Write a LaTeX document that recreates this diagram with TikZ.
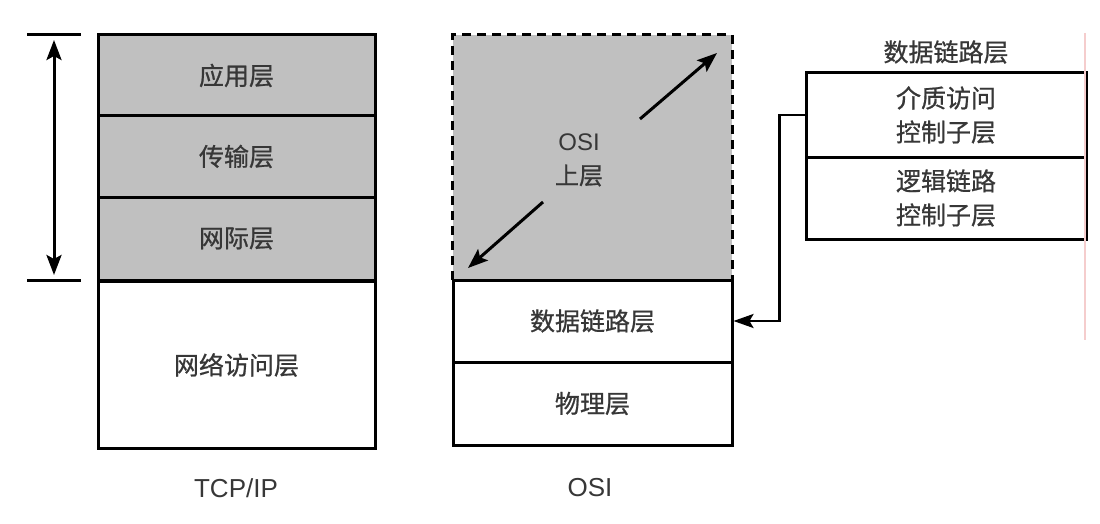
\documentclass[tikz,border=0pt]{standalone}
\usepackage{fontspec}
\setmainfont{Liberation Sans}
\newfontfamily\cjk[UprightFeatures={FakeBold=0.8}]{Noto Sans CJK SC}
\usetikzlibrary{arrows.meta}
\definecolor{layergray}{RGB}{192,192,192}
\definecolor{txt}{RGB}{55,55,55}
\definecolor{faintred}{RGB}{245,205,205}
\begin{document}
\begin{tikzpicture}[x=1pt,y=-1pt,
  layer/.style={draw=black,line width=3pt,inner sep=0pt,align=center,
    text=txt,font=\cjk\fontsize{25}{32}\selectfont},
  shaded/.style={layer,fill=layergray},
  tip/.style={-{Stealth[length=20pt,width=15pt,inset=4pt]}},
  arrowline/.style={line width=3pt,black},
  caption/.style={font=\fontsize{26}{30}\selectfont,text=txt}]
\useasboundingbox (0,0) rectangle (1100,524);
% TCP/IP stack
\node[shaded,minimum width=277pt,minimum height=81pt] (app) at (236.5,75.5) {应用层};
\node[shaded,minimum width=277pt,minimum height=81pt] (trans) at (236.5,156.5) {传输层};
\node[shaded,minimum width=277pt,minimum height=83pt] (net) at (236.5,238.5) {网际层};
\node[layer,minimum width=277pt,minimum height=167pt] (acc) at (236.5,365) {网络访问层};
\node[caption] (tcpip) at (236,488) {TCP/IP};
% bracket arrow
\coordinate (t1) at (27,35); \coordinate (t2) at (81,35);
\coordinate (b1) at (27,280); \coordinate (b2) at (81,280);
\coordinate (va) at (54,40); \coordinate (vb) at (54,275);
\draw[arrowline] (t1) -- (t2);
\draw[arrowline] (b1) -- (b2);
\draw[arrowline,{Stealth[length=20pt,width=15pt,inset=4pt]}-{Stealth[length=20pt,width=15pt,inset=4pt]}] (va) -- (vb);
% OSI stack
\node[fill=layergray,inner sep=0pt,minimum width=279pt,minimum height=245pt] (upper) at (592.5,157.5) {};
\draw[line width=3pt,dash pattern=on 9pt off 6pt] (upper.south west) -- (upper.north west) -- (upper.north east) -- (upper.south east);
\node[align=center,text=txt,font=\fontsize{24}{34}\selectfont] (upl) at (579,160) {OSI\\{\cjk 上层}};
\node[layer,minimum width=279pt,minimum height=82pt] (dl) at (592.5,321) {数据链路层};
\node[layer,minimum width=279pt,minimum height=83pt] (phy) at (592.5,403.5) {物理层};
\node[caption] (osi) at (590,488) {OSI};
\coordinate (d1s) at (640,119); \coordinate (d1e) at (717,53);
\coordinate (d2s) at (543,202); \coordinate (d2e) at (468,268);
\draw[arrowline,tip] (d1s) -- (d1e);
\draw[arrowline,tip] (d2s) -- (d2e);
% right data link detail
\node[text=txt,font=\cjk\fontsize{25}{30}\selectfont] (dltitle) at (946,52) {数据链路层};
\node[layer,minimum width=280pt,minimum height=84pt,font=\cjk\fontsize{25}{34}\selectfont] (mac) at (946,115) {介质访问\\控制子层};
\node[layer,minimum width=280pt,minimum height=82pt,font=\cjk\fontsize{25}{34}\selectfont] (llc) at (946,198) {逻辑链路\\控制子层};
\draw[line width=2.5pt,-{Stealth[length=20pt,width=14pt,inset=4pt]}] (mac.west) -- ++(-25,0) |- (dl.east);
% faint line
\coordinate (f1) at (1085,33); \coordinate (f2) at (1085,340);
\draw[faintred,line width=1.2pt] (f1) -- (f2);
\end{tikzpicture}
\end{document}
